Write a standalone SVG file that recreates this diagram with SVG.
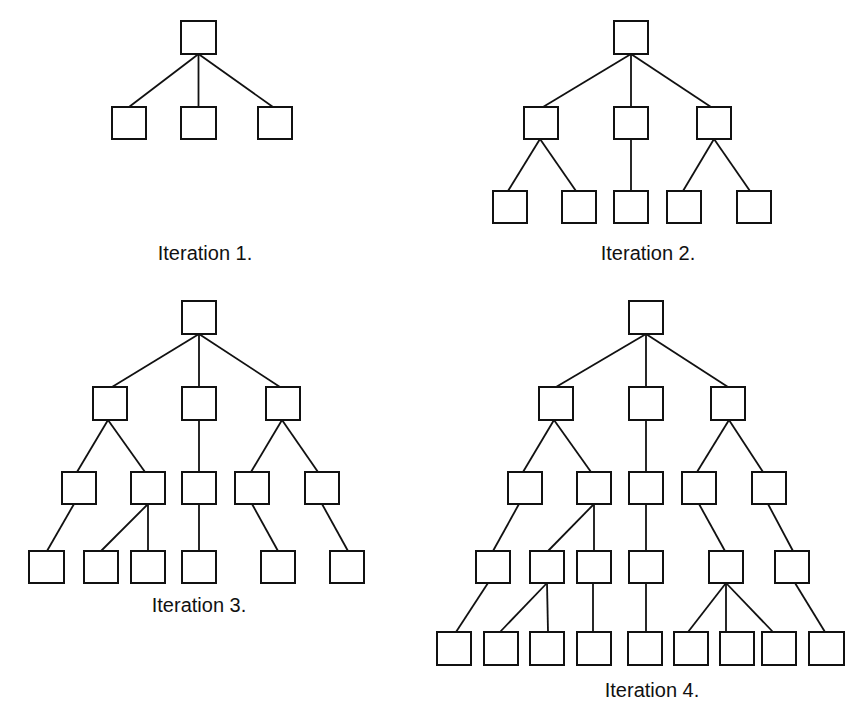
<svg xmlns="http://www.w3.org/2000/svg" width="855" height="718" viewBox="0 0 855 718">
<style>
.n{fill:#fff;stroke:#111;stroke-width:2}
.c line{stroke:#111;stroke-width:1.8}
.t{font-family:"Liberation Sans",Arial,sans-serif;font-size:20px;fill:#111;text-anchor:middle}
</style>
<rect width="855" height="718" fill="#fff"/>
<g id="connectors" class="c">
<!-- Iteration 1 -->
<line x1="198.5" y1="54" x2="129" y2="107"/>
<line x1="198.5" y1="54" x2="198.5" y2="107"/>
<line x1="198.5" y1="54" x2="273" y2="107"/>
<!-- Iteration 2 -->
<line x1="631" y1="54" x2="543" y2="107"/>
<line x1="631" y1="54" x2="631" y2="107"/>
<line x1="631" y1="54" x2="711" y2="107"/>
<line x1="540" y1="139" x2="508" y2="191"/>
<line x1="540" y1="139" x2="576" y2="191"/>
<line x1="631" y1="139" x2="631" y2="191"/>
<line x1="714" y1="139" x2="683" y2="191"/>
<line x1="714" y1="139" x2="750" y2="191"/>
<!-- Iteration 3 -->
<line x1="199" y1="334" x2="112" y2="387"/>
<line x1="199" y1="334" x2="199" y2="387"/>
<line x1="199" y1="334" x2="280" y2="387"/>
<line x1="108" y1="420" x2="77" y2="472"/>
<line x1="108" y1="420" x2="145" y2="472"/>
<line x1="199" y1="420" x2="199" y2="472"/>
<line x1="282" y1="420" x2="251" y2="472"/>
<line x1="282" y1="420" x2="318" y2="472"/>
<line x1="74" y1="504" x2="47" y2="551"/>
<line x1="148" y1="504" x2="101" y2="551"/>
<line x1="148" y1="504" x2="148" y2="551"/>
<line x1="199" y1="504" x2="199" y2="551"/>
<line x1="252" y1="504" x2="278" y2="551"/>
<line x1="322" y1="504" x2="348" y2="551"/>
<!-- Iteration 4 -->
<line x1="646" y1="334" x2="556" y2="387"/>
<line x1="646" y1="334" x2="646" y2="387"/>
<line x1="646" y1="334" x2="728" y2="387"/>
<line x1="554" y1="420" x2="523" y2="472"/>
<line x1="554" y1="420" x2="591" y2="472"/>
<line x1="646" y1="420" x2="646" y2="472"/>
<line x1="729" y1="420" x2="697" y2="472"/>
<line x1="729" y1="420" x2="763" y2="472"/>
<line x1="519" y1="504" x2="493" y2="551"/>
<line x1="594" y1="504" x2="548" y2="551"/>
<line x1="594" y1="504" x2="594" y2="551"/>
<line x1="646" y1="504" x2="646" y2="551"/>
<line x1="699" y1="504" x2="725" y2="551"/>
<line x1="768" y1="504" x2="793" y2="551"/>
<line x1="488" y1="583" x2="456" y2="632"/>
<line x1="547" y1="583" x2="500" y2="632"/>
<line x1="547" y1="583" x2="548" y2="632"/>
<line x1="593" y1="583" x2="593" y2="632"/>
<line x1="646" y1="583" x2="646" y2="632"/>
<line x1="726" y1="583" x2="688" y2="632"/>
<line x1="726" y1="583" x2="726" y2="632"/>
<line x1="726" y1="583" x2="773" y2="632"/>
<line x1="795" y1="583" x2="825" y2="632"/>
</g>
<!-- Iteration 1 nodes -->
<g id="i1-root"><rect class="n" x="181" y="21" width="35" height="33"/></g>
<g id="i1-a"><rect class="n" x="112" y="107" width="34" height="32"/></g>
<g id="i1-b"><rect class="n" x="181" y="107" width="35" height="32"/></g>
<g id="i1-c"><rect class="n" x="258" y="107" width="34" height="32"/></g>
<!-- Iteration 2 nodes -->
<g id="i2-root"><rect class="n" x="614" y="21" width="34" height="33"/></g>
<g id="i2-a"><rect class="n" x="524" y="107" width="34" height="32"/></g>
<g id="i2-b"><rect class="n" x="614" y="107" width="34" height="32"/></g>
<g id="i2-c"><rect class="n" x="697" y="107" width="34" height="32"/></g>
<g id="i2-aa"><rect class="n" x="493" y="191" width="34" height="32"/></g>
<g id="i2-ab"><rect class="n" x="562" y="191" width="34" height="32"/></g>
<g id="i2-ba"><rect class="n" x="614" y="191" width="34" height="32"/></g>
<g id="i2-ca"><rect class="n" x="667" y="191" width="34" height="32"/></g>
<g id="i2-cb"><rect class="n" x="737" y="191" width="34" height="32"/></g>
<!-- Iteration 3 nodes -->
<g id="i3-root"><rect class="n" x="182" y="301" width="34" height="33"/></g>
<g id="i3-a"><rect class="n" x="93" y="387" width="34" height="33"/></g>
<g id="i3-b"><rect class="n" x="182" y="387" width="34" height="33"/></g>
<g id="i3-c"><rect class="n" x="266" y="387" width="34" height="33"/></g>
<g id="i3-aa"><rect class="n" x="62" y="472" width="34" height="32"/></g>
<g id="i3-ab"><rect class="n" x="131" y="472" width="34" height="32"/></g>
<g id="i3-ba"><rect class="n" x="182" y="472" width="34" height="32"/></g>
<g id="i3-ca"><rect class="n" x="235" y="472" width="34" height="32"/></g>
<g id="i3-cb"><rect class="n" x="305" y="472" width="34" height="32"/></g>
<g id="i3-aaa"><rect class="n" x="29" y="551" width="35" height="32"/></g>
<g id="i3-aba"><rect class="n" x="84" y="551" width="34" height="32"/></g>
<g id="i3-abb"><rect class="n" x="131" y="551" width="34" height="32"/></g>
<g id="i3-baa"><rect class="n" x="182" y="551" width="34" height="32"/></g>
<g id="i3-caa"><rect class="n" x="261" y="551" width="34" height="32"/></g>
<g id="i3-cba"><rect class="n" x="330" y="551" width="34" height="32"/></g>
<!-- Iteration 4 nodes -->
<g id="i4-root"><rect class="n" x="629" y="301" width="34" height="33"/></g>
<g id="i4-a"><rect class="n" x="539" y="387" width="34" height="33"/></g>
<g id="i4-b"><rect class="n" x="629" y="387" width="34" height="33"/></g>
<g id="i4-c"><rect class="n" x="711" y="387" width="34" height="33"/></g>
<g id="i4-aa"><rect class="n" x="508" y="472" width="34" height="32"/></g>
<g id="i4-ab"><rect class="n" x="577" y="472" width="34" height="32"/></g>
<g id="i4-ba"><rect class="n" x="629" y="472" width="34" height="32"/></g>
<g id="i4-ca"><rect class="n" x="682" y="472" width="34" height="32"/></g>
<g id="i4-cb"><rect class="n" x="752" y="472" width="34" height="32"/></g>
<g id="i4-aaa"><rect class="n" x="476" y="551" width="34" height="32"/></g>
<g id="i4-aba"><rect class="n" x="530" y="551" width="34" height="32"/></g>
<g id="i4-abb"><rect class="n" x="577" y="551" width="34" height="32"/></g>
<g id="i4-baa"><rect class="n" x="629" y="551" width="34" height="32"/></g>
<g id="i4-caa"><rect class="n" x="709" y="551" width="34" height="32"/></g>
<g id="i4-cba"><rect class="n" x="775" y="551" width="34" height="32"/></g>
<g id="i4-aaaa"><rect class="n" x="437" y="632" width="34" height="33"/></g>
<g id="i4-abaa"><rect class="n" x="484" y="632" width="34" height="33"/></g>
<g id="i4-abab"><rect class="n" x="530" y="632" width="34" height="33"/></g>
<g id="i4-abba"><rect class="n" x="577" y="632" width="34" height="33"/></g>
<g id="i4-baaa"><rect class="n" x="628" y="632" width="34" height="33"/></g>
<g id="i4-caaa"><rect class="n" x="674" y="632" width="34" height="33"/></g>
<g id="i4-caab"><rect class="n" x="720" y="632" width="34" height="33"/></g>
<g id="i4-caac"><rect class="n" x="762" y="632" width="34" height="33"/></g>
<g id="i4-cbaa"><rect class="n" x="809" y="632" width="35" height="33"/></g>
<!-- Captions -->
<text class="t" x="205" y="260">Iteration 1.</text>
<text class="t" x="648" y="260">Iteration 2.</text>
<text class="t" x="199" y="612">Iteration 3.</text>
<text class="t" x="652" y="697">Iteration 4.</text>
</svg>
